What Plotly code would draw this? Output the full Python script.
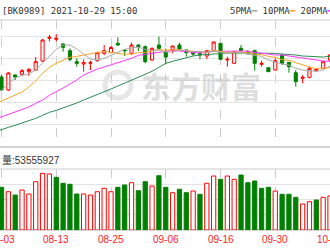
import plotly.graph_objects as go

dates = ["08-03","08-04","08-05","08-06","08-09","08-10","08-11","08-12","08-13","08-16",
         "08-17","08-18","08-19","08-20","08-23","08-24","08-25","08-26","08-27","08-30",
         "08-31","09-01","09-02","09-03","09-06","09-07","09-08","09-09","09-10","09-13",
         "09-14","09-15","09-16","09-17","09-22","09-23","09-24","09-27","09-28","09-29",
         "09-30","10-08","10-11","10-12","10-13","10-14","10-15","10-18","10-19"]

opens  = [1829,1790,1835,1837,1845,1850,1877,1945,1942,1928,1908,1875,1868,1870,1878,1900,1902,
          1930,1910,1900,1925,1920,1880,1925,1904,1912,1925,1910,1902,1900,1892,1908,1930,1880,
          1870,1915,1905,1908,1867,1857,1850,1895,1873,1842,1825,1828,1848,1855,1880]
highs  = [1835,1844,1836.5,1853,1856,1889,1943,1955,1958,1930,1914.5,1885,1882,1878,1905,1925,
          1922,1948,1912,1932,1926.5,1923.5,1917.5,1950,1914.5,1923.5,1932,1911.5,1904,1905,1910,
          1935,1931,1890,1907,1925,1910,1911.5,1878,1859,1885,1895,1874,1850,1835,1860,1855,1876,1898]
lows   = [1787,1787,1820,1835,1832,1848.5,1874,1935.5,1935.5,1905,1875.5,1860,1845,1850,1874,1895,
          1901,1922,1892,1895,1907,1870,1877,1910,1868,1900,1910,1890,1892,1882,1883,1907,1880,
          1860,1868,1905,1898,1848,1860,1844,1848,1865,1842,1800,1810,1825,1847,1854,1877]
closes = [1790,1841,1829,1848,1852,1875,1940,1948,1945,1918,1882,1870,1872,1872,1902,1908,1917.5,
          1925,1908,1925,1920,1875,1915,1915,1889,1922,1912,1902,1898,1895,1908,1934,1882,1882,
          1905,1908,1902,1870,1870,1845,1878,1870,1860,1815,1828,1855,1852,1875,1895]

# moving averages: first value is the trading day before 08-03
ma5  = [1781,1790,1808,1826,1834,1838,1850,1870,1892,1912,1925,1925,1913,1897,1883,1880,1885,
        1894,1904,1912,1916,1919,1912,1909,1910,1904,1904,1910,1908,1905,1906,1903,1907,1903,
        1900,1902,1902,1897,1894,1891,1880,1874,1868,1865,1855,1850,1847,1846,1850,1862]
ma10 = [1748,1757,1766,1775,1784,1799,1817,1840,1858,1870,1879,1888,1891,1895,1897,1903,1906,
        1903,1901,1897,1898,1902,1903,1907,1911,1910,1911,1911,1908,1907,1904,1903,1909,1906,
        1903,1904,1903,1902,1898,1896,1891,1888,1881,1879,1872,1865,1859,1854,1855,1857]
ma20 = [1702,1709,1717,1724,1732,1739,1750,1760,1774,1784,1796,1808,1820,1835,1844,1853,1859,
        1865,1873,1879,1885,1894,1897,1901,1904,1906,1909,1907,1905,1903,1901,1903,1906,1906,
        1907,1907,1907,1906,1903,1901,1897,1895,1895,1892,1887,1884,1881,1878,1877,1876]
ma60 = [1664,1672,1678,1684,1691,1697,1705,1714,1723,1729,1736,1745,1751,1760,1768,1775,1783,
        1793,1802,1811,1820,1828,1837,1846,1858,1870,1876,1882,1888,1892,1895,1897,1898,1900,
        1901,1901,1901,1901,1901,1901,1901,1900,1898,1897,1895,1892,1891,1889,1889,1891]

volumes = [84.0,75.3,68.8,78.7,70.8,95.0,111.5,110.2,103.7,91.9,89.9,70.8,70.8,68.8,75.3,82.0,
           75.3,84.0,88.5,93.0,77.3,95.0,86.5,106.8,84.0,73.4,80.1,73.4,76.7,70.2,91.9,106.2,
           99.7,106.2,99.7,108.2,93.0,96.4,82.0,84.0,76.7,70.2,70.2,64.3,51.1,55.7,59.0,64.3,66.9]
vol_up = [0,1,0,1,1,1,1,1,0,0,0,0,1,1,1,1,1,0,0,1,0,0,1,0,0,1,0,0,1,0,1,1,0,1,1,0,0,0,0,0,
          1,0,0,0,1,1,0,1,1]

tick_idx = [0, 8, 16, 24, 32, 40, 48]
price_grid = [1688, 1754, 1820, 1886, 1952]
vol_grid = [30, 60, 90]

RED = "#ff0000"
GREEN = "#008000"

x = list(range(len(dates)))
x_ma = list(range(-1, len(dates)))

fig = go.Figure()

for vals, col in [(ma60, "#2e8b57"), (ma20, "#ff33ff"), (ma10, "#f5a623"), (ma5, "#a8a8a8")]:
    fig.add_trace(go.Scatter(x=x_ma, y=vals, mode="lines", line=dict(color=col, width=1),
                             xaxis="x", yaxis="y", hoverinfo="skip"))

fig.add_trace(go.Candlestick(
    x=x, open=opens, high=highs, low=lows, close=closes,
    increasing=dict(line=dict(color=RED, width=1), fillcolor="white"),
    decreasing=dict(line=dict(color=GREEN, width=1), fillcolor=GREEN),
    whiskerwidth=0, xaxis="x", yaxis="y"))

fig.add_trace(go.Bar(
    x=x, y=volumes, width=0.62,
    marker=dict(color=["white" if u else GREEN for u in vol_up],
                line=dict(color=[RED if u else GREEN for u in vol_up], width=1)),
    xaxis="x2", yaxis="y2", hoverinfo="skip"))

xr = [-0.22, 48.0]
fig.update_layout(
    width=330, height=250, margin=dict(l=0, r=0, t=0, b=0),
    paper_bgcolor="white", plot_bgcolor="white", showlegend=False,
    boxgap=0.35,
    xaxis=dict(domain=[0, 1], range=xr, anchor="y", tickvals=tick_idx, showticklabels=False,
               showgrid=True, gridcolor="#cccccc", griddash="dash", gridwidth=1,
               zeroline=False, showline=False, rangeslider=dict(visible=False), ticks=""),
    yaxis=dict(domain=[0.412, 0.92], range=[1619, 2000], tickvals=price_grid,
               showticklabels=False, showgrid=True, gridcolor="#e3e3e3", zeroline=False,
               ticks=""),
    xaxis2=dict(domain=[0, 1], range=xr, anchor="y2", tickvals=tick_idx,
                showticklabels=False, showgrid=True, gridcolor="#cccccc",
                griddash="dash", zeroline=False, showline=False, ticks=""),
    yaxis2=dict(domain=[0.08, 0.324], range=[0, 120], tickvals=vol_grid, showticklabels=False,
                showgrid=True, gridcolor="#e3e3e3", zeroline=False, ticks=""),
)

# date labels under the volume panel, centred on their trading day (clipped at the edges)
for i in tick_idx:
    fig.add_annotation(xref="x2", yref="paper", x=i, y=1 - 239 / 250, xanchor="center",
                       yanchor="middle", showarrow=False, text=dates[i],
                       font=dict(color="#ff2020", size=10, family="Arial, Liberation Sans"))

for yp, col in [(0.92, "#cccccc"), (0.412, "#aaaaaa"), (0.324, "#cccccc"), (0.08, "#aaaaaa")]:
    fig.add_shape(type="line", xref="paper", yref="paper", x0=0, x1=1, y0=yp, y1=yp,
                  line=dict(color=col, width=1), layer="below")

# watermark logo (light ring) and text
fig.add_shape(type="circle", xref="paper", yref="paper", layer="below",
              x0=105 / 330, x1=131 / 330, y0=1 - 98 / 250, y1=1 - 72 / 250,
              line=dict(color="#e6e6e6", width=5))

fig.add_annotation(xref="paper", yref="paper", x=0, y=1 - 11 / 250, xanchor="left",
                   yanchor="middle", showarrow=False, text="[BK0989] 2021-10-29 15:00",
                   font=dict(family="DejaVu Sans Mono", size=9, color="#333333"))
fig.add_annotation(xref="paper", yref="paper", x=228 / 330, y=1 - 11 / 250, xanchor="left",
                   yanchor="middle", showarrow=False,
                   text="5PMA<span style='color:#a8a8a8'>━</span> 10PMA<span style='color:#f5a623'>━</span> 20PMA<span style='color:#ff33ff'>━</span>",
                   font=dict(family="DejaVu Sans Mono", size=9, color="#333333"))
fig.add_annotation(xref="paper", yref="paper", x=0, y=1 - 160 / 250, xanchor="left",
                   yanchor="middle", showarrow=False, text="量:53555927",
                   font=dict(family="Liberation Sans, Noto Sans CJK SC", size=10, color="#333333"))
fig.add_annotation(xref="paper", yref="paper", x=201 / 330, y=1 - 85 / 250, xanchor="center",
                   yanchor="middle", showarrow=False, text="<b>东方财富</b>",
                   font=dict(family="Noto Sans CJK SC", size=30, color="rgba(190,190,190,0.5)"))

fig.write_html("out.html")
